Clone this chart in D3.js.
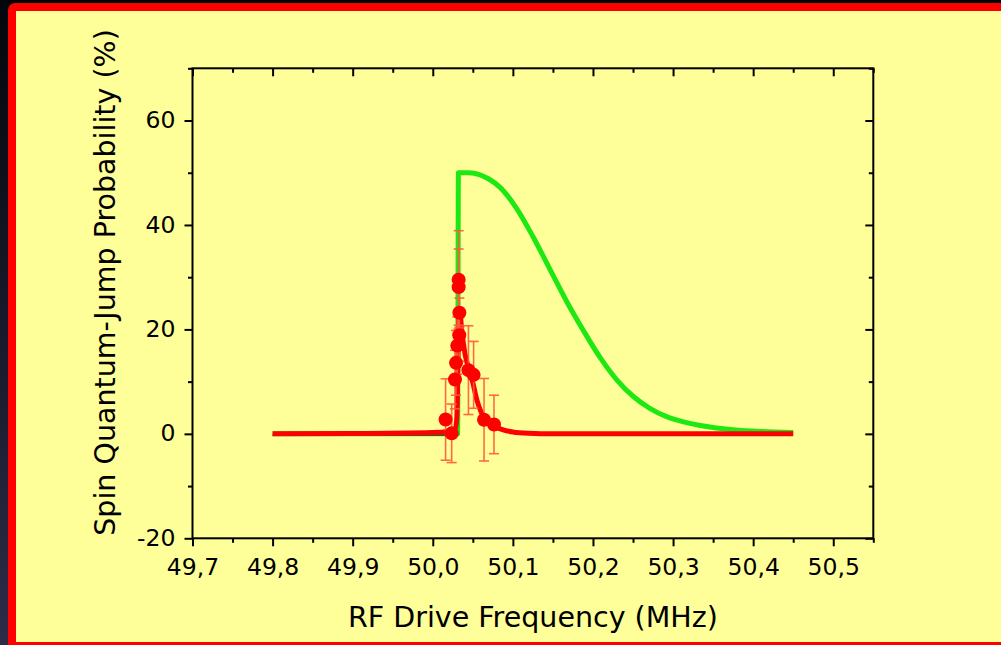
<!DOCTYPE html>
<html>
<head>
<meta charset="utf-8">
<script src="https://cdn.jsdelivr.net/npm/d3@7"></script>
<style>
  html, body { margin: 0; padding: 0; background: #000; overflow: hidden; }
  svg { display: block; }
  text { font-family: "DejaVu Sans", Verdana, sans-serif; fill: #000; }
</style>
</head>
<body>
<svg id="chart" width="1001" height="645"></svg>
<script>
// ---- data -------------------------------------------------------------
// axis ticks (MHz, %)
const xMajorTicks = [49.7, 49.8, 49.9, 50.0, 50.1, 50.2, 50.3, 50.4, 50.5];
const xMinorTicks = [49.75, 49.85, 49.95, 50.05, 50.15, 50.25, 50.35, 50.45, 50.55];
const yMajorTicks = [-20, 0, 20, 40, 60];
const yMinorTicks = [-10, 10, 30, 50, 70];

// theoretical line shape (green): [frequency MHz, probability %]
const greenCurve = [
  [49.80, 0], [50.031, 0], [50.032, 50], [50.045, 50], [50.059, 49.6],
  [50.070, 48.8], [50.084, 47.2], [50.105, 43.1], [50.125, 37.8],
  [50.146, 31.6], [50.167, 25.4], [50.188, 19.8], [50.209, 14.6],
  [50.230, 10.3], [50.250, 7.2], [50.271, 4.9], [50.292, 3.3],
  [50.313, 2.3], [50.334, 1.6], [50.375, 0.8], [50.410, 0.45], [50.450, 0.25]
];

// baseline trace below the fit
const baseCurve = [[49.80, 0], [50.031, 0]];

// fitted line shape (red)
const redCurve = [
  [49.80, 0], [49.90, 0.05], [50.00, 0.25], [50.020, 0.45], [50.028, 0.9],
  [50.030, 3], [50.031, 10], [50.032, 19], [50.0335, 24], [50.036, 20],
  [50.040, 15.5], [50.046, 12], [50.050, 9.8], [50.055, 6.5], [50.060, 4.3],
  [50.067, 2.4], [50.075, 1.5], [50.085, 0.9], [50.100, 0.35],
  [50.120, 0.1], [50.150, 0], [50.450, 0]
];

// measured jump probabilities with uncertainties
const measFreq = [50.016, 50.0236, 50.0277, 50.0290, 50.0306, 50.0330, 50.0332, 50.0323, 50.0323, 50.0445, 50.0510, 50.0640, 50.0764];
const measProb = [2.75, 0.1, 10.4, 13.6, 16.9, 18.9, 23.2, 28.1, 29.5, 12.2, 11.3, 2.7, 1.8];
const measErr  = [7.8, 5.6, 5.6, 6.2, 5.5, 5.0, 2.8, 7.3, 9.4, 8.5, 6.4, 7.9, 5.6];

// ---- layout -----------------------------------------------------------
const svg = d3.select("#chart");
const W = 1001, H = 645;

const locale = d3.formatLocale({ decimal: ",", thousands: ".", grouping: [3], currency: ["", ""], minus: "-" });
const fmtX = locale.format(".1f");
const fmtY = locale.format("d");

// page frame
const defs = svg.append("defs");
const grad = defs.append("linearGradient").attr("id", "edge").attr("x1", 0).attr("y1", 0).attr("x2", 0).attr("y2", 1);
grad.append("stop").attr("offset", "0%").attr("stop-color", "#05050c");
grad.append("stop").attr("offset", "100%").attr("stop-color", "#2c2c48");
svg.append("rect").attr("x", 0).attr("y", 0).attr("width", W).attr("height", H).attr("fill", "#000");
svg.append("rect").attr("x", 0).attr("y", 0).attr("width", 8).attr("height", H).attr("fill", "url(#edge)");
svg.append("rect").attr("x", 8).attr("y", 3).attr("width", W + 20).attr("height", H + 20).attr("rx", 7).attr("fill", "#ff0000");
svg.append("rect").attr("x", 16).attr("y", 11).attr("width", W).attr("height", 631).attr("fill", "#ffff99");

const x = d3.scaleLinear().domain([49.7, 50.55]).range([192.5, 873.3]);
const y = d3.scaleLinear().domain([-20, 70]).range([538.3, 68.3]);

const [x0, x1] = x.range();
const [y0, y1] = y.range();

// ---- axes -------------------------------------------------------------
function axisGroup(axis, tx, ty) {
  const g = svg.append("g").attr("transform", `translate(${tx},${ty})`).call(axis);
  g.select(".domain").remove();
  g.selectAll(".tick line").attr("stroke", "#000").attr("stroke-width", 2);
  return g;
}

// bottom (outward ticks, labelled)
const gb = axisGroup(d3.axisBottom(x).tickValues(xMajorTicks).tickSize(8).tickSizeOuter(0).tickFormat(fmtX), 0, y0);
gb.selectAll(".tick text").attr("font-size", 23.5).attr("font-family", "DejaVu Sans").attr("y", 36.5).attr("dy", 0);
axisGroup(d3.axisBottom(x).tickValues(xMinorTicks).tickSize(4.5).tickSizeOuter(0).tickFormat(""), 0, y0);

// top (inward ticks)
axisGroup(d3.axisBottom(x).tickValues(xMajorTicks).tickSize(8).tickSizeOuter(0).tickFormat(""), 0, y1);
axisGroup(d3.axisBottom(x).tickValues(xMinorTicks).tickSize(4.5).tickSizeOuter(0).tickFormat(""), 0, y1);

// left (outward ticks, labelled)
const gl = axisGroup(d3.axisLeft(y).tickValues(yMajorTicks).tickSize(8).tickSizeOuter(0).tickFormat(fmtY), x0, 0);
gl.selectAll(".tick text").attr("font-size", 23.5).attr("font-family", "DejaVu Sans").attr("x", -17).attr("dy", "0.3em");
axisGroup(d3.axisLeft(y).tickValues(yMinorTicks).tickSize(4.5).tickSizeOuter(0).tickFormat(""), x0, 0);

// right (inward ticks)
axisGroup(d3.axisLeft(y).tickValues(yMajorTicks).tickSize(8).tickSizeOuter(0).tickFormat(""), x1, 0);
axisGroup(d3.axisLeft(y).tickValues(yMinorTicks).tickSize(4.5).tickSizeOuter(0).tickFormat(""), x1, 0);

// plot box
svg.append("rect")
  .attr("x", x0).attr("y", y1).attr("width", x1 - x0).attr("height", y0 - y1)
  .attr("fill", "none").attr("stroke", "#000").attr("stroke-width", 2);

// axis titles
svg.append("text")
  .attr("x", (x0 + x1) / 2).attr("y", 627)
  .attr("text-anchor", "middle").attr("font-size", 28.5)
  .text("RF Drive Frequency (MHz)");

svg.append("text")
  .attr("transform", `translate(115,${(28 + 537) / 2}) rotate(-90)`)
  .attr("text-anchor", "middle").attr("font-size", 28.5)
  .text("Spin Quantum-Jump Probability (%)");

// ---- curves -----------------------------------------------------------
const line = d3.line().x(d => x(d[0])).y(d => y(d[1])).curve(d3.curveMonotoneX);

svg.append("path").datum(greenCurve).attr("d", line)
  .attr("fill", "none").attr("stroke", "#1ee812").attr("stroke-width", 5).attr("stroke-linejoin", "round");

svg.append("path").datum(baseCurve).attr("d", line)
  .attr("fill", "none").attr("stroke", "#333").attr("stroke-width", 1.6)
  .attr("transform", "translate(0,1.2)");

svg.append("path").datum(redCurve).attr("d", line)
  .attr("fill", "none").attr("stroke", "#ff0000").attr("stroke-width", 5).attr("stroke-linejoin", "round");

// ---- measurements -----------------------------------------------------
const meas = measFreq.map((f, i) => ({ f, p: measProb[i], e: measErr[i] }));
const capW = 5;
const bars = svg.append("g").attr("stroke", "#ff5a3c").attr("stroke-width", 1.6).attr("stroke-opacity", 0.9);
bars.selectAll("line.v").data(meas).join("line").attr("class", "v")
  .attr("x1", d => x(d.f)).attr("x2", d => x(d.f))
  .attr("y1", d => y(d.p - d.e)).attr("y2", d => y(d.p + d.e));
bars.selectAll("line.t").data(meas).join("line").attr("class", "t")
  .attr("x1", d => x(d.f) - capW).attr("x2", d => x(d.f) + capW)
  .attr("y1", d => y(d.p + d.e)).attr("y2", d => y(d.p + d.e));
bars.selectAll("line.b").data(meas).join("line").attr("class", "b")
  .attr("x1", d => x(d.f) - capW).attr("x2", d => x(d.f) + capW)
  .attr("y1", d => y(d.p - d.e)).attr("y2", d => y(d.p - d.e));

svg.append("g").selectAll("circle").data(meas).join("circle")
  .attr("cx", d => x(d.f)).attr("cy", d => y(d.p)).attr("r", 7)
  .attr("fill", "#ff0000");
</script>
</body>
</html>
